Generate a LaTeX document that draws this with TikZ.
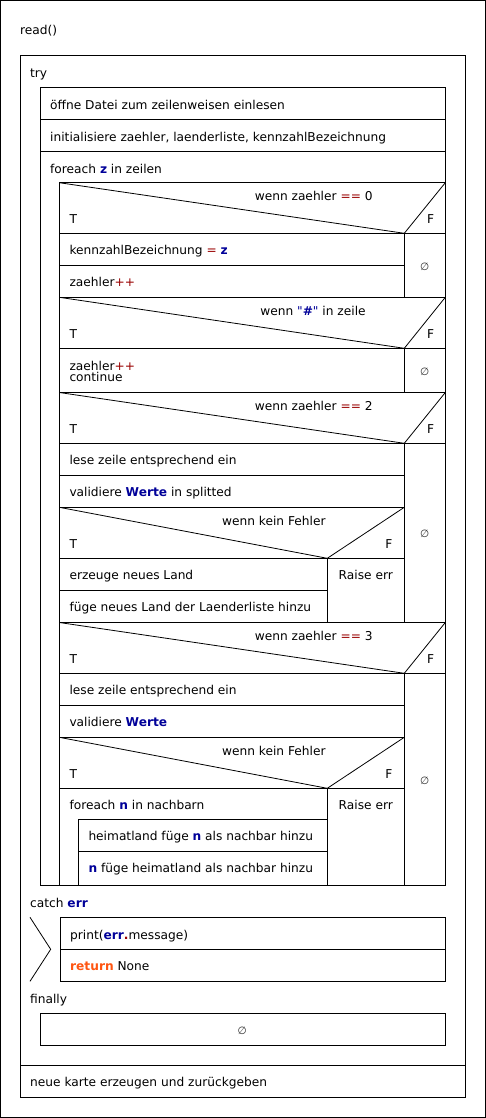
\documentclass[tikz,border=0pt]{standalone}
\usepackage{fontspec}
\setmainfont{DejaVu Sans}
\usepackage{xcolor}
\definecolor{kwblue}{HTML}{000099}
\definecolor{opred}{HTML}{990000}
\definecolor{retorange}{HTML}{FF5511}
\newcommand\kw[1]{\textcolor{kwblue}{\textbf{#1}}}
\newcommand\op[1]{\textcolor{opred}{#1}}
\newcommand\rt[1]{\textcolor{retorange}{\textbf{#1}}}
\newcommand\mainsize{\fontsize{12.2}{11.7}\selectfont}
\newcommand\emptysize{\fontsize{10.5}{10.5}\selectfont}
\tikzset{
  frame/.style={draw=black, line width=1pt},
  diag/.style={draw=black, line width=0.8pt},
  txt/.style={anchor=base west, inner sep=0pt, font=\mainsize},
  ctxt/.style={anchor=base, inner sep=0pt, font=\mainsize},
  rtxt/.style={anchor=base east, inner sep=0pt, font=\mainsize},
  emptyset/.style={anchor=center, inner sep=0pt, font=\emptysize, text=black!80},
}
\begin{document}
\begin{tikzpicture}[x=1pt,y=-1pt]
\useasboundingbox (0,0) rectangle (486,1118);
\fill[white] (0,0) rectangle (486,1118);
% outer function box
\draw[frame] (0.5,0.5) rectangle (485.5,1117.5);
\node[txt] (read) at (20,35) {read()};
% try/catch/finally + final statement
\draw[frame] (20.5,56) rectangle (465.3,1097);
\draw[frame] (20.5,1065) -- (465.3,1065);
\node[txt] (try) at (30,77.3) {try};
% try body
\draw[frame] (40.5,87.7) rectangle (445.3,885.3);
\draw[frame] (40.5,119.3) -- (445.3,119.3);
\draw[frame] (40.5,151.7) -- (445.3,151.7);
\node[txt] (s1) at (50,109.2) {öffne Datei zum zeilenweisen einlesen};
\node[txt] (s2) at (50,141.2) {initialisiere zaehler, laenderliste, kennzahlBezeichnung};
\node[txt] (s3) at (50,173.3) {foreach \kw{z} in zeilen};
% foreach body
\draw[frame] (59.3,182.7) -- (59.3,885.3);
\draw[frame] (59.3,182.7) -- (445.3,182.7);
% ---- if 1
\draw[diag] (59.3,182.7) -- (404.3,233.3) -- (445.3,182.7);
\draw[frame] (59.3,233.3) -- (445.3,233.3);
\draw[frame] (404.3,233.3) -- (404.3,297.3);
\draw[frame] (59.3,265.3) -- (404.3,265.3);
\draw[frame] (59.3,297.3) -- (445.3,297.3);
\node[ctxt] (c1) at (313.7,200.5) {wenn zaehler \op{==} 0};
\node[txt] (t1) at (69.3,223.3) {T};
\node[rtxt] (f1) at (434.3,223.3) {F};
\node[txt] (a1) at (69.3,254.8) {kennzahlBezeichnung \op{=} \kw{z}};
\node[txt] (a2) at (69.3,286.8) {zaehler\op{++}};
\node[emptyset] (e1) at (424.8,266.7) {∅};
% ---- if 2
\draw[diag] (59.3,297.3) -- (404.3,348.3) -- (445.3,297.3);
\draw[frame] (59.3,348.3) -- (445.3,348.3);
\draw[frame] (404.3,348.3) -- (404.3,392.5);
\draw[frame] (59.3,392.5) -- (445.3,392.5);
\node[ctxt] (c2) at (313,315.1) {wenn \textcolor{kwblue}{\textquotedbl\textbf{\#}\textquotedbl} in zeile};
\node[txt] (t2) at (69.3,338.3) {T};
\node[rtxt] (f2) at (434.3,338.3) {F};
\node[txt] (b1) at (69.3,370) {zaehler\op{++}};
\node[txt] (b2) at (69.3,381.7) {continue};
\node[emptyset] (e2) at (424.8,371.7) {∅};
% ---- if 3
\draw[diag] (59.3,392.5) -- (404.3,443.3) -- (445.3,392.5);
\draw[frame] (59.3,443.3) -- (445.3,443.3);
\draw[frame] (404.3,443.3) -- (404.3,622.5);
\draw[frame] (59.3,475.3) -- (404.3,475.3);
\draw[frame] (59.3,507.3) -- (404.3,507.3);
\node[ctxt] (c3) at (313.7,410.3) {wenn zaehler \op{==} 2};
\node[txt] (t3) at (69.3,433.3) {T};
\node[rtxt] (f3) at (434.3,433.3) {F};
\node[txt] (d1) at (69.3,464.8) {lese zeile entsprechend ein};
\node[txt] (d2) at (69.3,496.8) {validiere \kw{Werte} in splitted};
\node[emptyset] (e3) at (424.8,534) {∅};
% nested if 3a
\draw[diag] (59.3,507.3) -- (327.3,558.3) -- (404.3,507.3);
\draw[frame] (59.3,558.3) -- (404.3,558.3);
\draw[frame] (327.3,558.3) -- (327.3,622.5);
\draw[frame] (59.3,590.3) -- (327.3,590.3);
\node[ctxt] (c3a) at (273.8,525.1) {wenn kein Fehler};
\node[txt] (t3a) at (69.3,548.3) {T};
\node[rtxt] (f3a) at (392.7,548.3) {F};
\node[txt] (g1) at (69.3,579.8) {erzeuge neues Land};
\node[txt] (g2) at (69.3,611.8) {füge neues Land der Laenderliste hinzu};
\node[ctxt] (r3) at (365.8,579.8) {Raise err};
\draw[frame] (59.3,622.5) -- (445.3,622.5);
% ---- if 4
\draw[diag] (59.3,622.5) -- (404.3,673.3) -- (445.3,622.5);
\draw[frame] (59.3,673.3) -- (445.3,673.3);
\draw[frame] (404.3,673.3) -- (404.3,885.3);
\draw[frame] (59.3,705.3) -- (404.3,705.3);
\draw[frame] (59.3,737.3) -- (404.3,737.3);
\node[ctxt] (c4) at (313.7,640.3) {wenn zaehler \op{==} 3};
\node[txt] (t4) at (69.3,663.3) {T};
\node[rtxt] (f4) at (434.3,663.3) {F};
\node[txt] (h1) at (69.3,694.8) {lese zeile entsprechend ein};
\node[txt] (h2) at (69.3,726.8) {validiere \kw{Werte}};
\node[emptyset] (e4) at (424.8,780.7) {∅};
% nested if 4a
\draw[diag] (59.3,737.3) -- (327.3,788.3) -- (404.3,737.3);
\draw[frame] (59.3,788.3) -- (404.3,788.3);
\draw[frame] (327.3,788.3) -- (327.3,885.3);
\node[ctxt] (c4a) at (273.8,755.1) {wenn kein Fehler};
\node[txt] (t4a) at (69.3,778.3) {T};
\node[rtxt] (f4a) at (392.7,778.3) {F};
\node[txt] (k1) at (69.3,809.8) {foreach \kw{n} in nachbarn};
\node[ctxt] (r4) at (365.8,809.8) {Raise err};
\draw[frame] (78.3,819.3) -- (78.3,885.3);
\draw[frame] (78.3,819.3) -- (327.3,819.3);
\draw[frame] (78.3,851.3) -- (327.3,851.3);
\node[txt] (k2) at (88.3,840.8) {heimatland füge \kw{n} als nachbar hinzu};
\node[txt] (k3) at (88.3,872.8) {\kw{n} füge heimatland als nachbar hinzu};
% catch
\node[txt] (catch) at (30,907) {catch \kw{err}};
\draw[diag] (30,917.3) -- (50.7,949.3) -- (30,981.3);
\draw[frame] (60.3,917.7) rectangle (445.3,981.3);
\draw[frame] (60.3,949.3) -- (445.3,949.3);
\node[txt] (p1) at (70,939.2) {print(\kw{err}\textcolor{opred}{\textbf{.}}message)};
\node[txt] (p2) at (70,970.8) {\rt{return} None};
% finally
\node[txt] (fin) at (30,1003) {finally};
\draw[frame] (40.5,1013.7) rectangle (445.3,1045);
\node[emptyset] (e5) at (242.3,1031) {∅};
% last statement
\node[txt] (last) at (30,1086.5) {neue karte erzeugen und zurückgeben};
\end{tikzpicture}
\end{document}
